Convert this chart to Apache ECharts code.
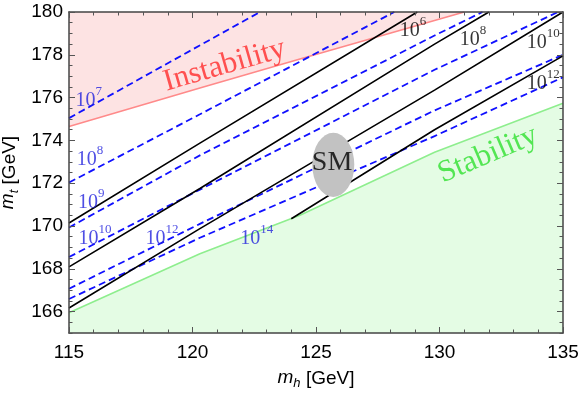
<!DOCTYPE html>
<html lang="en">
<head>
    <meta charset="utf-8">
    <title>Vacuum stability</title>
    <script src="https://cdn.jsdelivr.net/npm/echarts@6/dist/echarts.min.js"></script>
    <style>
        html, body {margin: 0; padding: 0; background: #fff;}
        #chart {width: 582px; height: 395px;}
    </style>
</head>
<body>
<div id="chart"></div>
<script type="text/javascript">
    // axis ranges and ticks
    const xRange = [115, 135];
    const yRange = [165, 180];
    const yMajor = [166, 168, 170, 172, 174, 176, 178, 180];

    // region borders (m_h, m_t)
    const instabilityEdge = [[115, 174.65], [120.3, 176.45], [124.35, 177.8], [131.0, 180]];
    const stabilityEdge = [[115, 165.95], [120.3, 168.7], [124.35, 170.5], [129.8, 173.45], [135, 175.74]];

    // black solid lines
    const black6 = [[115, 170.14], [120.3, 173.87], [129.1, 180]];
    const black8 = [[115, 168.09], [120.3, 171.75], [129.8, 178.5], [132.0, 180]];
    const black10 = [[115, 166.17], [120.3, 169.88], [129.8, 176.35], [135, 180]];
    const black12 = [[124.0, 170.34], [129.8, 174.5], [135, 177.95]];

    // blue dashed lines
    const blue7 = [[115, 175.04], [122.73, 180]];
    const blue8 = [[115, 172.03], [120.3, 175.22], [128.17, 180]];
    const blue9 = [[115, 169.93], [120.3, 173.3], [129.8, 178.9], [131.74, 180]];
    const blue10 = [[115, 168.55], [120.3, 171.7], [129.8, 177.3], [134.8, 180]];
    const blue12 = [[115, 167.07], [120.3, 170.1], [129.8, 175.4], [135, 178.0]];
    const blue14 = [[115, 166.59], [120.3, 169.45], [129.8, 174.2], [135, 176.95]];

    // SM point: centre and half extents
    const smPoint = [[125.7, 172.86, 0.85, 1.5]];

    // line tags: x, y, exponent
    const blueTags = [[115.8, 176.0, 7], [115.85, 173.23, 8], [115.9, 171.23, 9],
        [116.05, 169.55, 10], [118.77, 169.55, 12], [122.6, 169.55, 14]];
    const blackTags = [[128.93, 179.25, 6], [131.36, 178.83, 8], [134.2, 178.7, 10], [134.2, 176.78, 12]];

    const chart = echarts.init(document.getElementById('chart'), null, {renderer: 'canvas'});

    function lineSeries(data, color, dashed)
    {
        return {
            type: 'line',
            data: data,
            symbol: 'none',
            silent: true,
            z: 3,
            lineStyle: {color: color, width: dashed ? 1.8 : 1.6, type: dashed ? [7, 4] : 'solid'}
        };
    }

    function tagSeries(data, color)
    {
        return {
            type: 'scatter',
            data: data,
            symbolSize: 1,
            itemStyle: {color: 'rgba(0,0,0,0)'},
            silent: true,
            z: 6,
            label: {
                show: true,
                position: 'inside',
                formatter: function (p)
                {
                    return '{b|10}{s|' + p.data[2] + '}';
                },
                rich: {
                    b: {fontFamily: 'Liberation Serif', fontSize: 20, color: color, lineHeight: 26, verticalAlign: 'bottom'},
                    s: {fontFamily: 'Liberation Serif', fontSize: 13, color: color, lineHeight: 13, verticalAlign: 'top'}
                }
            }
        };
    }

    const tickFont = {fontFamily: 'Liberation Sans', fontSize: 19, color: '#000'};
    const frame = {show: true, lineStyle: {color: '#444', width: 1.5}};
    const majorTick = {inside: true, length: 6, lineStyle: {color: '#555', width: 1}};
    const minorTick = {inside: true, length: 3.5, lineStyle: {color: '#555', width: 1}};

    const option = {
        animation: false,
        grid: {left: 69, right: 19, top: 12, bottom: 62, outerBoundsMode: 'none'},
        xAxis: [
            {
                type: 'value', min: xRange[0], max: xRange[1], interval: 5, position: 'bottom', z: 10,
                axisLine: frame,
                axisTick: majorTick,
                minorTick: {show: true, splitNumber: 5, length: 3.5, lineStyle: {color: '#555'}},
                splitLine: {show: false},
                axisLabel: Object.assign({margin: 10}, tickFont),
                name: '{m|m}{sub|h} [GeV]',
                nameLocation: 'middle',
                nameGap: 35,
                nameTextStyle: {
                    fontFamily: 'Liberation Sans', fontSize: 19, color: '#000',
                    rich: {
                        m: {fontFamily: 'Liberation Sans', fontStyle: 'italic', fontSize: 19, lineHeight: 22, verticalAlign: 'top'},
                        sub: {fontFamily: 'Liberation Sans', fontStyle: 'italic', fontSize: 13, lineHeight: 13, verticalAlign: 'bottom'}
                    }
                }
            },
            {
                type: 'value', min: xRange[0], max: xRange[1], interval: 5, position: 'top', z: 10,
                axisLine: frame,
                axisTick: majorTick,
                minorTick: {show: true, splitNumber: 5, length: 3.5, lineStyle: {color: '#555'}},
                splitLine: {show: false},
                axisLabel: {show: false}
            }
        ],
        yAxis: [
            {
                type: 'value', min: yRange[0], max: yRange[1], position: 'left', z: 10,
                axisLine: frame,
                axisTick: Object.assign({customValues: yMajor}, majorTick),
                splitLine: {show: false},
                axisLabel: Object.assign({margin: 6, customValues: yMajor}, tickFont),
                name: '{m|m}{sub|t} [GeV]',
                nameLocation: 'middle',
                nameGap: 45,
                nameRotate: 90,
                nameTextStyle: {
                    fontFamily: 'Liberation Sans', fontSize: 19, color: '#000',
                    rich: {
                        m: {fontFamily: 'Liberation Sans', fontStyle: 'italic', fontSize: 19, lineHeight: 22, verticalAlign: 'top'},
                        sub: {fontFamily: 'Liberation Sans', fontStyle: 'italic', fontSize: 13, lineHeight: 13, verticalAlign: 'bottom'}
                    }
                }
            },
            {
                type: 'value', min: yRange[0], max: yRange[1], interval: 0.5, position: 'left', z: 10,
                axisLine: {show: false},
                axisTick: minorTick,
                splitLine: {show: false},
                axisLabel: {show: false}
            },
            {
                type: 'value', min: yRange[0], max: yRange[1], position: 'right', z: 10,
                axisLine: frame,
                axisTick: Object.assign({customValues: yMajor}, majorTick),
                splitLine: {show: false},
                axisLabel: {show: false}
            },
            {
                type: 'value', min: yRange[0], max: yRange[1], interval: 0.5, position: 'right', z: 10,
                axisLine: {show: false},
                axisTick: minorTick,
                splitLine: {show: false},
                axisLabel: {show: false}
            }
        ],
        series: [
            {
                type: 'line', data: instabilityEdge, symbol: 'none', silent: true, z: 1,
                lineStyle: {color: '#ff8a8a', width: 1.6},
                areaStyle: {origin: 'end', color: '#fde3e3', opacity: 1}
            },
            {
                type: 'line', data: stabilityEdge, symbol: 'none', silent: true, z: 1,
                lineStyle: {color: '#8eee8e', width: 1.6},
                areaStyle: {origin: 'start', color: '#e4fce4', opacity: 1}
            },
            lineSeries(blue7, '#1010ff', true),
            lineSeries(blue8, '#1010ff', true),
            lineSeries(blue9, '#1010ff', true),
            lineSeries(blue10, '#1010ff', true),
            lineSeries(blue12, '#1010ff', true),
            lineSeries(blue14, '#1010ff', true),
            lineSeries(black6, '#000', false),
            lineSeries(black8, '#000', false),
            lineSeries(black10, '#000', false),
            lineSeries(black12, '#000', false),
            {
                type: 'custom',
                data: smPoint,
                silent: true,
                z: 5,
                renderItem: function (params, api)
                {
                    const c = api.coord([api.value(0), api.value(1)]);
                    const s = api.size([api.value(2), api.value(3)]);
                    return {
                        type: 'circle',
                        x: c[0], y: c[1],
                        scaleX: 1, scaleY: s[1] / s[0],
                        shape: {cx: 0, cy: 0, r: s[0]},
                        style: {fill: '#c2c2c2'}
                    };
                }
            },
            tagSeries(blueTags, '#2222dd'),
            tagSeries(blackTags, '#000'),
            {
                type: 'scatter',
                symbolSize: 1,
                itemStyle: {color: 'rgba(0,0,0,0)'},
                silent: true,
                z: 7,
                label: {show: true, position: 'inside', fontFamily: 'Liberation Serif', fontSize: 31, formatter: '{b}'},
                data: [
                    {name: 'Instability', value: [121.3, 177.5], label: {color: '#ff2a2a', rotate: 16}},
                    {name: 'Stability', value: [131.96, 173.33], label: {color: '#2ee02e', rotate: 23}},
                    {name: 'SM', value: [125.65, 172.95], label: {color: '#000', fontSize: 28}}
                ]
            }
        ]
    };
    chart.setOption(option);
</script>
</body>
</html>
